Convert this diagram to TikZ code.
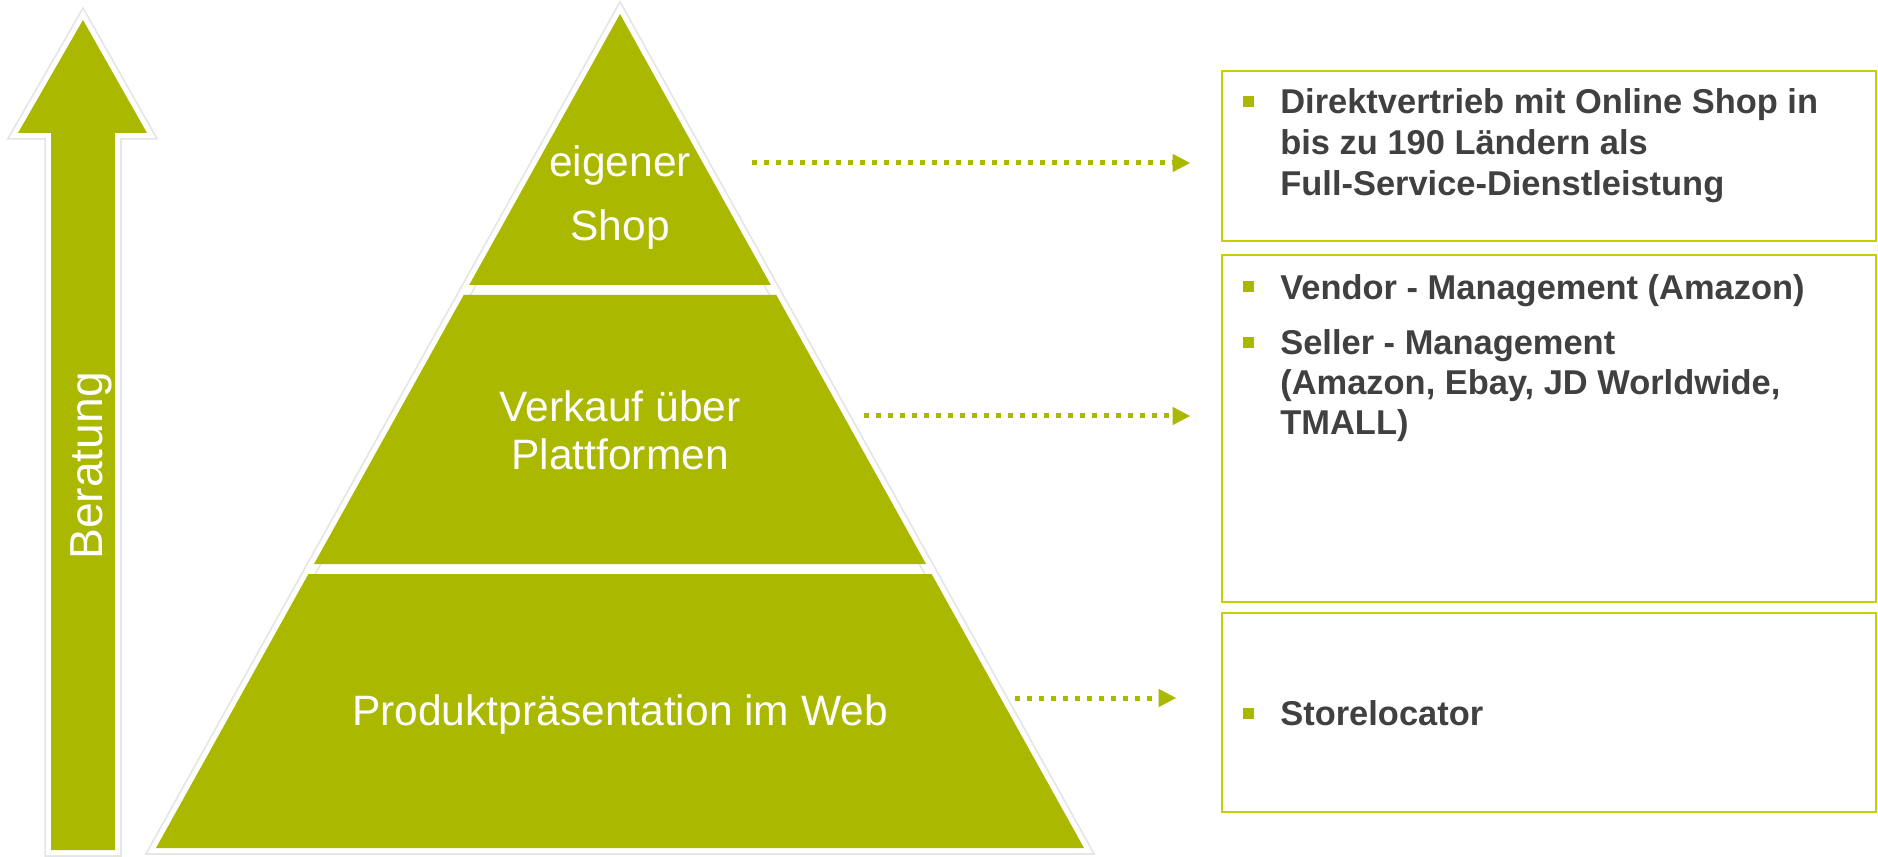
\documentclass[tikz,border=0pt]{standalone}
\usepackage{fontspec}
\setmainfont{Liberation Sans}
\usetikzlibrary{arrows.meta}
\definecolor{pyrgreen}{RGB}{170,184,0}
\definecolor{boxgreen}{RGB}{196,208,0}
\definecolor{textgray}{RGB}{64,64,64}
\newcommand{\whiteedge}[1]{% path with white rim
    \draw[black!10, line width=0.27cm, line join=miter] #1;
    \draw[white, line width=0.2cm, line join=miter] #1;
}
\tikzset{
    layer/.style={fill=pyrgreen},
    pyrtext/.style={text=white, font=\fontsize{24.2}{29}\selectfont, anchor=base, inner sep=0pt},
    infobox/.style={draw=boxgreen, line width=0.05cm, minimum width=13.08cm, inner sep=0pt},
    sqbullet/.style={fill=pyrgreen, minimum size=0.22cm, inner sep=0pt},
    itemtext/.style={text=textgray, font=\fontsize{19.6}{23}\selectfont\bfseries, anchor=base west, inner sep=0pt},
    dotarrow/.style={draw=pyrgreen, line width=0.1cm, dash pattern=on 0.1cm off 0.14cm,
        -{Triangle[length=0.35cm, width=0.37cm, line width=0pt]}}
}

\begin{document}
\begin{tikzpicture}[x=0.02cm, y=-0.02cm]
    \useasboundingbox (0,0) rectangle (1878,857);
    % Beratung arrow
    \whiteedge{(83,20) -- (147,133) -- (115,133) -- (115,850) -- (51,850) -- (51,133) -- (18,133) -- cycle}
    \fill[pyrgreen] (83,20) -- (147,133) -- (115,133) -- (115,850) -- (51,850) -- (51,133) -- (18,133) -- cycle;
    \node (beratung) [rotate=90, anchor=base, inner sep=0pt, text=white, font=\fontsize{26.3}{30}\selectfont]
        at (102,466) {Beratung};
    % pyramid
    \whiteedge{(620,14) -- (1084,848) -- (156,848) -- cycle}
    \fill[layer] (620,14) -- (770.8,285) -- (469.2,285) -- cycle;
    \fill[layer] (463.7,295) -- (776.3,295) -- (926,564) -- (314,564) -- cycle;
    \fill[layer] (308.4,574) -- (931.6,574) -- (1084,848) -- (156,848) -- cycle;
    \node (shop1) [pyrtext] at (620,177) {eigener};
    \node (shop2) [pyrtext] at (620,241) {Shop};
    \node (platt1) [pyrtext] at (620,422) {Verkauf über};
    \node (platt2) [pyrtext] at (620,470) {Plattformen};
    \node (web) [pyrtext] at (620,725) {Produktpräsentation im Web};
    % boxes
    \node (box1) [infobox, minimum height=3.4cm] at (1549,156) {};
    \node (box2) [infobox, minimum height=6.94cm] at (1549,428.5) {};
    \node (box3) [infobox, minimum height=3.98cm] at (1549,712.5) {};
    \node (b1) [sqbullet] at (1248.5,101.5) {};
    \node (t11) [itemtext] at (1280,114) {Direktvertrieb mit Online Shop in};
    \node (t12) [itemtext] at (1280,155) {bis zu 190 Ländern als};
    \node (t13) [itemtext] at (1280,196) {Full-Service-Dienstleistung};
    \node (b2) [sqbullet] at (1248.5,286.5) {};
    \node (t21) [itemtext] at (1280,300) {Vendor - Management (Amazon)};
    \node (b3) [sqbullet] at (1248.5,342.5) {};
    \node (t22) [itemtext] at (1280,355) {Seller - Management};
    \node (t23) [itemtext] at (1280,395) {(Amazon, Ebay, JD Worldwide,};
    \node (t24) [itemtext] at (1280,435) {TMALL)};
    \node (b4) [sqbullet] at (1248.5,713.5) {};
    \node (t31) [itemtext] at (1280,725) {Storelocator};
    % dotted arrows
    \coordinate (s1) at (752,163);
    \coordinate (e1) at (1190,163);
    \coordinate (s2) at (864,416);
    \coordinate (e2) at (1190,416);
    \coordinate (s3) at (1015,698);
    \coordinate (e3) at (1176,698);
    \draw[dotarrow] (s1) -- (e1);
    \draw[dotarrow] (s2) -- (e2);
    \draw[dotarrow] (s3) -- (e3);
\end{tikzpicture}
\end{document}
